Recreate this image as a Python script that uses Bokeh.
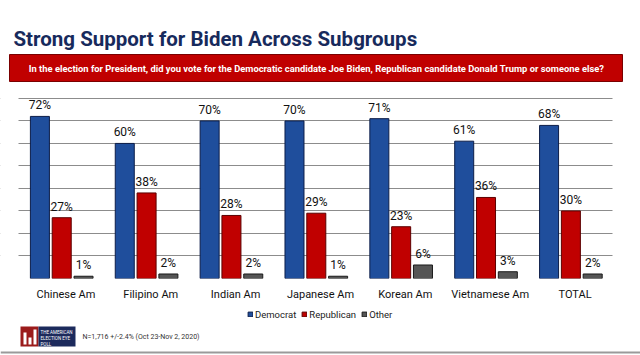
from bokeh.plotting import figure
from bokeh.layouts import column
from bokeh.models import (ColumnDataSource, LabelSet, Label, BoxAnnotation, Legend,
                          LegendItem, Range1d, FactorRange, SingleIntervalTicker)
from bokeh.transform import dodge
from bokeh.core.properties import value
from bokeh.embed import file_html
from bokeh.resources import INLINE

categories = ["Chinese Am", "Filipino Am", "Indian Am", "Japanese Am",
              "Korean Am", "Vietnamese Am", "TOTAL"]
democrat = [72, 60, 70, 70, 71, 61, 68]
republican = [27, 38, 28, 29, 23, 36, 30]
other = [1, 2, 2, 1, 6, 3, 2]
series_names = ["Democrat", "Republican", "Other"]
y_ticks_step = 10

title_text = "Strong Support for Biden Across Subgroups"
question_text = ("In the election for President, did you vote for the Democratic candidate "
                 "Joe Biden, Republican candidate Donald Trump or someone else?")
footer_text = "N=1,716 +/-2.4% (Oct 23-Nov 2, 2020)"
logo_lines = ["THE AMERICAN", "ELECTION EYE", "POLL"]

F = "Roboto"
colors = {"dem": ("#1f4e9c", "#0c1d48"), "rep": ("#c00000", "#5c0000"),
          "oth": ("#555555", "#1a1a1a")}


def blank(height, y0, y1):
    f = figure(width=640, height=height, x_range=Range1d(0, 640), y_range=Range1d(y0, y1),
               x_axis_location=None, y_axis_location=None, min_border=0,
               toolbar_location=None, output_backend="svg", title=None)
    f.outline_line_color = None
    f.background_fill_color = "white"
    f.border_fill_color = "white"
    for g in f.grid:
        g.visible = False
    f.xgrid.grid_line_color = None
    f.ygrid.grid_line_color = None
    return f


def box(f, l, r, t, b, fc, lc=None):
    f.add_layout(BoxAnnotation(left=l, right=r, top=t, bottom=b, fill_color=fc, fill_alpha=1,
                               line_color=lc, line_alpha=1 if lc else 0, line_width=1))


# ---------- top: title + question banner (page pixel coords) ----------
top = blank(90, 90, 0)
top.add_layout(Label(x=13, y=38, text=title_text, text_font=F, text_font_style="bold",
                     text_font_size="20.5px", text_color="#172a5c",
                     text_baseline="alphabetic"))
box(top, 9, 622, 54, 81, "#c00000", "#7a0000")
top.add_layout(Label(x=316, y=67.5, text=question_text, text_font=F, text_font_style="bold",
                     text_font_size="9.4px", text_color="white", text_align="center",
                     text_baseline="middle"))

# ---------- main chart ----------
src = ColumnDataSource(dict(
    cat=categories,
    dem=democrat, rep=republican, oth=other,
    dem_lbl=[f"{v}%" for v in democrat],
    rep_lbl=[f"{v}%" for v in republican],
    oth_lbl=[f"{v}%" for v in other],
))

p = figure(x_range=FactorRange(*categories, range_padding=0.0774),
           y_range=Range1d(0, 80.4), width=640, height=214,
           output_backend="svg", toolbar_location=None, title=None,
           min_border_left=0, min_border_right=0, min_border_top=7, min_border_bottom=26)
p.outline_line_color = None
p.background_fill_color = "white"
p.border_fill_color = "white"
p.xgrid.visible = False
p.yaxis.visible = False
p.yaxis.ticker = SingleIntervalTicker(interval=y_ticks_step)
p.ygrid.ticker = SingleIntervalTicker(interval=y_ticks_step)
p.ygrid.grid_line_color = "#8c8c8c"
p.ygrid.grid_line_width = 1

xa = p.xaxis[0]
xa.axis_line_color = None
xa.major_tick_line_color = None
xa.minor_tick_line_color = None
xa.major_tick_out = 0
xa.major_tick_in = 0
xa.major_label_standoff = 9
xa.major_label_text_font = F
xa.major_label_text_font_size = "11px"
xa.major_label_text_color = "#111111"

shift = -0.0495
step = 0.257
bw = 0.224
for col, off in [("dem", -step), ("rep", 0.0), ("oth", step)]:
    xs = dodge("cat", off + shift, range=p.x_range)
    fc, lc = colors[col]
    p.vbar(x=xs, top=col, width=bw, source=src, fill_color=fc, line_color=lc, line_width=1)
    p.add_layout(LabelSet(x=xs, y=col, text=col + "_lbl", source=src, text_align="center",
                          text_baseline="alphabetic", y_offset=7, text_font=value(F),
                          text_font_size="12px", text_color="#111111"))

# trim grid lines to the reference's horizontal extent
for l, r in [(0, 18), (612, 640)]:
    p.add_layout(BoxAnnotation(left=l, right=r, left_units="screen", right_units="screen",
                               fill_color="white", fill_alpha=1, line_alpha=0))

# ---------- bottom: legend + footer (page pixel coords) ----------
bot = blank(51, 355, 304)
items = []
for col, name in zip(["dem", "rep", "oth"], series_names):
    fc, lc = colors[col]
    r = bot.vbar(x=[float("nan")], top=[0], width=1, fill_color=fc, line_color=lc)
    items.append(LegendItem(label=name, renderers=[r]))
legend = Legend(items=items, orientation="horizontal", location=(247, 35),
                glyph_width=6, glyph_height=6, label_height=12, label_standoff=2,
                spacing=5, padding=0, margin=0, label_text_font=F,
                label_text_font_size="9.5px", label_text_color="#222222",
                border_line_color=None, background_fill_alpha=0)
bot.add_layout(legend)

# logo
box(bot, 20, 38, 326, 346, "#9b1b1b")
box(bot, 23, 26, 332, 344, "white")
box(bot, 28, 31, 337, 344, "white")
box(bot, 33, 36, 329, 344, "white")
box(bot, 38, 75, 326, 346, "#1c2a5c")
for i, t in enumerate(logo_lines):
    bot.add_layout(Label(x=40, y=331.5 + i * 6, text=t, text_font=F, text_font_size="4.5px",
                         text_color="white", text_baseline="alphabetic"))
bot.add_layout(Label(x=82, y=336, text=footer_text, text_font=F, text_font_size="7px",
                     text_color="#333333", text_baseline="middle"))
# bottom frame line
box(bot, 0, 640, 351, 353, "#9a9a9a")

layout = column(top, p, bot, spacing=0)
open("out.html", "w").write(file_html(layout, INLINE))
